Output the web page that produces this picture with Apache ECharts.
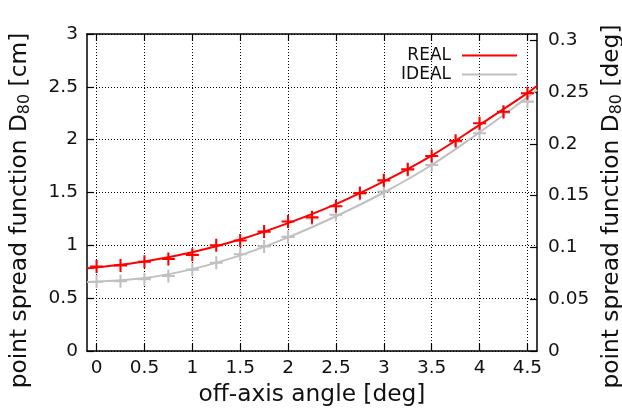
<!DOCTYPE html>
<html>
<head>
<meta charset="utf-8">
<script src="https://cdn.jsdelivr.net/npm/echarts@6/dist/echarts.min.js"></script>
<style>
  html, body { margin: 0; padding: 0; background: #fff; }
  #chart { width: 622px; height: 412px; }
</style>
</head>
<body>
<div id="chart"></div>
<script>
// Off-axis angles of the measured points [deg]
const angles = [0, 0.25, 0.5, 0.75, 1, 1.25, 1.5, 1.75, 2, 2.25, 2.5, 2.75, 3, 3.25, 3.5, 3.75, 4, 4.25, 4.5];
// D80 of the real optics [cm]
const realD80 = [0.80, 0.81, 0.845, 0.87, 0.91, 1.00, 1.045, 1.13, 1.225, 1.265, 1.37, 1.495, 1.615, 1.72, 1.845, 1.99, 2.155, 2.265, 2.44];
// D80 of the ideal optics [cm]
const idealD80 = [0.655, 0.66, 0.68, 0.71, 0.77, 0.835, 0.915, 0.99, 1.08, 1.255, 1.29, 1.485, 1.51, 1.71, 1.76, 1.98, 2.06, 2.255, 2.36];

// Fitted curves sampled across the angle range
const fitAngles = [-0.1, 0, 0.5, 1, 1.5, 2, 2.5, 3, 3.5, 4, 4.5, 4.6];
const realFit = [0.782, 0.79, 0.848, 0.935, 1.055, 1.21, 1.39, 1.605, 1.85, 2.14, 2.44, 2.51];
const idealFit = [0.652, 0.655, 0.69, 0.775, 0.905, 1.075, 1.275, 1.50, 1.76, 2.07, 2.40, 2.47];

// Tick positions
const angleTicks = [0, 0.5, 1, 1.5, 2, 2.5, 3, 3.5, 4, 4.5];
const degTicks = [0, 0.05, 0.1, 0.15, 0.2, 0.25, 0.3];

const FONT = 'DejaVu Sans';
const TXT = '#111';
const PLUS = 'path://M4.2,0H5.8V4.2H10V5.8H5.8V10H4.2V5.8H0V4.2H4.2Z';
const RED = '#ff0000';
const GREY = '#c0c0c0';
const TICK_FS = 18.5;
const TITLE_FS = 23.3;

const pairs = (xs, ys) => xs.map((x, i) => [x, ys[i]]);

const frameLine = { show: true, onZero: false, lineStyle: { color: '#000', width: 1.5 } };
const tickStyle = { color: '#000', width: 1.2 };
const dotted = { show: true, lineStyle: { color: '#000', width: 1, type: [1, 2] } };

const titleRich = {
  t: { fontFamily: FONT, fontSize: TITLE_FS, color: TXT },
  s: { fontFamily: FONT, fontSize: 16, color: TXT, padding: [10, 0, 0, 0] }
};

const chart = echarts.init(document.getElementById('chart'), null, { renderer: 'canvas' });
chart.setOption({
  animation: false,
  backgroundColor: '#fff',
  grid: { left: 87, right: 85, top: 34, bottom: 61, containLabel: false, outerBoundsMode: 'none' },
  legend: {
    data: ['REAL', 'IDEAL'],
    orient: 'vertical',
    align: 'right',
    right: 100,
    top: 42,
    icon: 'rect',
    itemWidth: 55,
    itemHeight: 2,
    itemGap: 2,
    selectedMode: false,
    textStyle: { fontFamily: FONT, fontSize: 17, color: TXT, padding: [0, 6, 0, 0] }
  },
  xAxis: [
    {
      type: 'value', position: 'bottom', min: -0.1, max: 4.6,
      axisLine: frameLine,
      axisTick: { show: true, inside: true, length: 7, customValues: angleTicks, lineStyle: tickStyle },
      axisLabel: {
        customValues: angleTicks, fontFamily: FONT, fontSize: TICK_FS, color: TXT, margin: 8,
        alignMinLabel: 'center', alignMaxLabel: 'center', hideOverlap: false
      },
      splitLine: dotted,
      name: 'off-axis angle [deg]', nameLocation: 'middle', nameGap: 32,
      nameTextStyle: { fontFamily: FONT, fontSize: TITLE_FS, color: TXT }
    },
    {
      type: 'value', position: 'top', min: -0.1, max: 4.6,
      axisLine: frameLine,
      axisTick: { show: true, inside: true, length: 7, customValues: angleTicks, lineStyle: tickStyle },
      axisLabel: { show: false },
      splitLine: { show: false }
    }
  ],
  yAxis: [
    {
      type: 'value', position: 'left', min: 0, max: 3, interval: 0.5,
      axisLine: frameLine,
      axisTick: { show: true, inside: true, length: 7, lineStyle: tickStyle },
      axisLabel: { fontFamily: FONT, fontSize: TICK_FS, color: TXT, margin: 9 },
      splitLine: dotted,
      name: '{t|point spread function D}{s|80}{t| [cm]}',
      nameLocation: 'middle', nameGap: 54, nameRotate: 90,
      nameTextStyle: { rich: titleRich, padding: [0, 36, 0, 0] }
    },
    {
      type: 'value', position: 'right', min: 0, max: 0.306,
      axisLine: frameLine,
      axisTick: { show: true, inside: true, length: 7, customValues: degTicks, lineStyle: tickStyle },
      axisLabel: { customValues: degTicks, fontFamily: FONT, fontSize: TICK_FS, color: TXT, margin: 11 },
      splitLine: { show: false },
      name: '{t|point spread function D}{s|80}{t| [deg]}',
      nameLocation: 'middle', nameGap: 60, nameRotate: 90,
      nameTextStyle: { rich: titleRich, padding: [0, 28, 0, 0] }
    }
  ],
  series: [
    {
      name: 'IDEAL', type: 'line', xAxisIndex: 0, yAxisIndex: 0,
      data: pairs(fitAngles, idealFit), smooth: 0.4, showSymbol: false,
      lineStyle: { color: GREY, width: 2 }, itemStyle: { color: GREY }, z: 2
    },
    {
      name: 'IDEAL', type: 'scatter', xAxisIndex: 0, yAxisIndex: 0,
      data: pairs(angles, idealD80), symbol: PLUS, symbolSize: 13,
      itemStyle: { color: GREY, opacity: 1 }, z: 3
    },
    {
      name: 'REAL', type: 'line', xAxisIndex: 0, yAxisIndex: 0,
      data: pairs(fitAngles, realFit), smooth: 0.4, showSymbol: false,
      lineStyle: { color: RED, width: 2 }, itemStyle: { color: RED }, z: 4
    },
    {
      name: 'REAL', type: 'scatter', xAxisIndex: 0, yAxisIndex: 0,
      data: pairs(angles, realD80), symbol: PLUS, symbolSize: 13,
      itemStyle: { color: RED, opacity: 1 }, z: 5
    }
  ]
});
</script>
</body>
</html>
